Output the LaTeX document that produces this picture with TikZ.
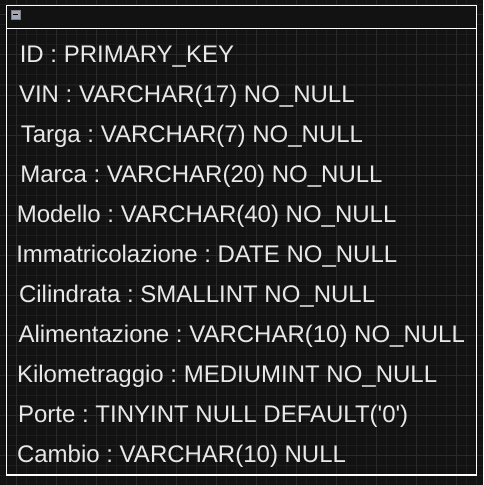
\documentclass[tikz,border=0pt]{standalone}
\usepackage{fontspec}
\setmainfont{Liberation Sans}
\usepackage{tikz}
\usetikzlibrary{positioning}
\frenchspacing

\definecolor{bgcol}{RGB}{18,18,18}
\definecolor{minorcol}{RGB}{29,29,29}
\definecolor{majorcol}{RGB}{42,42,42}
\definecolor{textcol}{RGB}{232,232,232}
\definecolor{iconcol}{RGB}{160,168,184}

\begin{document}
\begin{tikzpicture}[x=0.75pt,y=-0.75pt,every node/.style={anchor=base west,inner sep=0pt,text=textcol,font=\fontsize{18pt}{22pt}\selectfont}]
		%background
		\fill[bgcol] (0,0) rectangle (483,485);
		\useasboundingbox (0,0) rectangle (483,485);

		%grid
		\foreach \gx in {6.7,16.7,...,486} \draw[minorcol,line width=0.75pt] (\gx,0) -- (\gx,485);
		\foreach \gy in {5,15,...,490} \draw[minorcol,line width=0.75pt] (0,\gy) -- (483,\gy);
		\foreach \gx in {16.7,56.7,...,486} \draw[majorcol,line width=0.75pt] (\gx,0) -- (\gx,485);
		\foreach \gy in {15,55,...,490} \draw[majorcol,line width=0.75pt] (0,\gy) -- (483,\gy);

		%table frame
		\fill[bgcol] (6.7,5.3) rectangle (476.5,28.3);
		\draw[white,line width=1.1pt] (6.7,5.3) rectangle (476.5,474.8);
		\draw[white,line width=1.1pt] (6.7,28.3) -- (476.5,28.3);

		%collapse icon
		\draw[gray,fill=iconcol,line width=0.6pt] (11,10) rectangle (20,19);
		\draw[black,line width=1.2pt] (13,14.5) -- (18,14.5);

		%rows
		\node (id) at (19.5,62.6) {ID : PRIMARY\_KEY};
		\node (vin) at (18.8,102.5) {VIN : VARCHAR(17) NO\_NULL};
		\node (targa) at (20.5,142.5) {Targa : VARCHAR(7) NO\_NULL};
		\node (marca) at (20,182.5) {Marca : VARCHAR(20) NO\_NULL};
		\node (modello) at (16.5,222.5) {Modello : VARCHAR(40) NO\_NULL};
		\node (immatr) at (16,262.5) {Immatricolazione : DATE NO\_NULL};
		\node (cilindrata) at (18.8,302.5) {Cilindrata : SMALLINT NO\_NULL};
		\node (aliment) at (18.3,342.6) {Alimentazione : VARCHAR(10) NO\_NULL};
		\node (km) at (16.8,382.5) {Kilometraggio : MEDIUMINT NO\_NULL};
		\node (porte) at (17.8,422.5) {Porte : TINYINT NULL DEFAULT(\textquotesingle0\textquotesingle)};
		\node (cambio) at (16.8,462.5) {Cambio : VARCHAR(10) NULL};
\end{tikzpicture}
\end{document}
